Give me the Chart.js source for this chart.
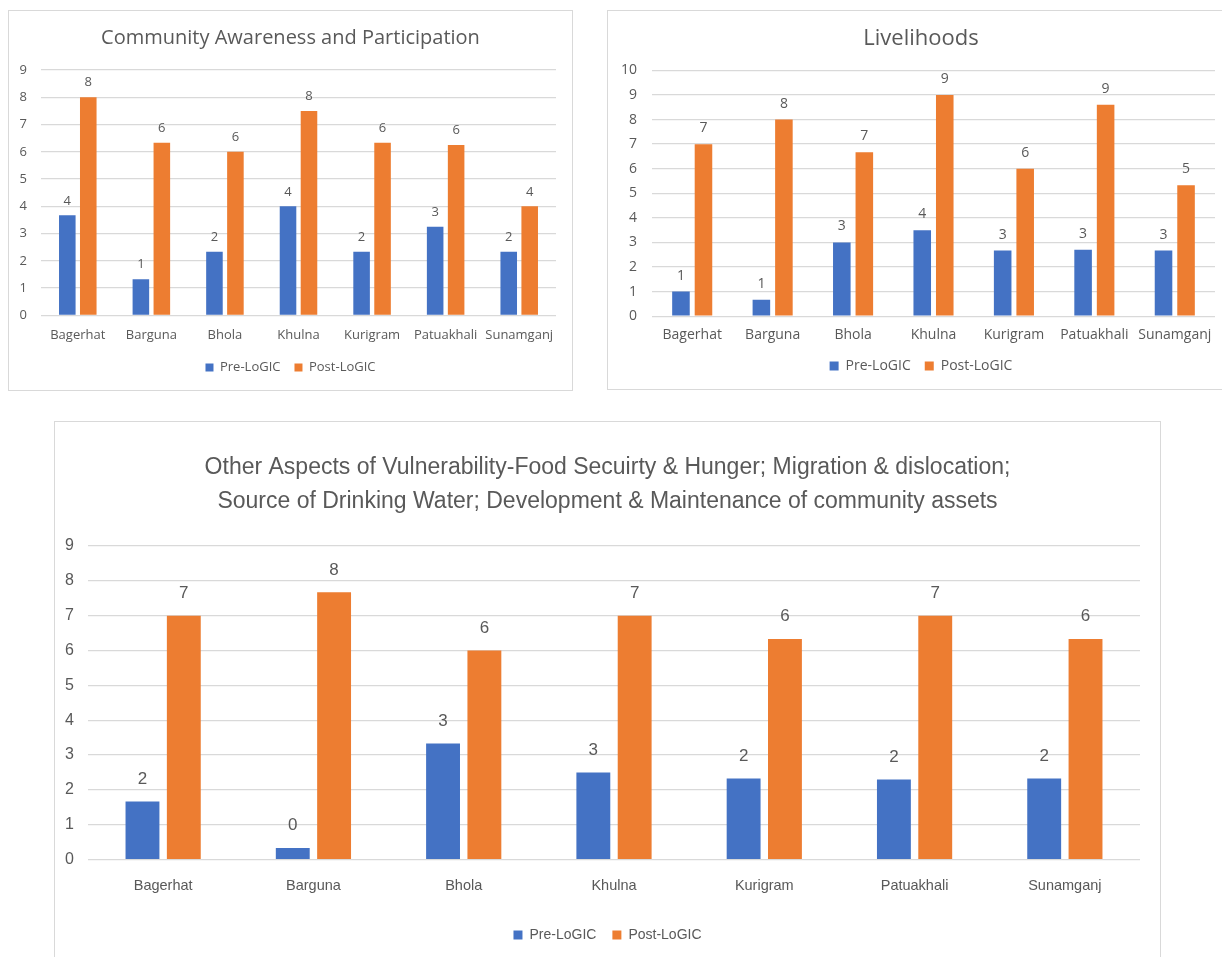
<!DOCTYPE html>
<html>
<head>
<meta charset="utf-8">
<script src="https://cdn.jsdelivr.net/npm/chart.js@4.4.1/dist/chart.umd.min.js"></script>
<style>
  body { margin: 0; background: #fff; width: 1222px; height: 957px; overflow: hidden; position: relative; }
  .box { position: absolute; border: 1px solid #d9d9d9; background: #fff; box-sizing: border-box; }
  .box canvas { display: block; }
</style>
</head>
<body>
<div class="box" style="left:8px; top:10px; width:565px; height:381px;"><canvas id="c1"></canvas></div>
<div class="box" style="left:607px; top:10px; width:628px; height:380px;"><canvas id="c2"></canvas></div>
<div class="box" style="left:54px; top:421px; width:1107px; height:545px;"><canvas id="c3"></canvas></div>
<script>
const categories = ['Bagerhat', 'Barguna', 'Bhola', 'Khulna', 'Kurigram', 'Patuakhali', 'Sunamganj'];
const seriesNames = ['Pre-LoGIC', 'Post-LoGIC'];

const awarenessPre = [3.67, 1.33, 2.33, 4, 2.33, 3.25, 2.33];
const awarenessPost = [8, 6.33, 6, 7.5, 6.33, 6.25, 4];

const livelihoodsPre = [1, 0.67, 3, 3.5, 2.67, 2.7, 2.67];
const livelihoodsPost = [7, 8, 6.67, 9, 6, 8.6, 5.33];

const otherPre = [1.67, 0.33, 3.33, 2.5, 2.33, 2.3, 2.33];
const otherPost = [7, 7.67, 6, 7, 6.33, 7, 6.33];

const BLUE = '#4472C4';
const ORANGE = '#ED7D31';
const TEXT = '#595959';
const GRID = '#d9d9d9';

// draws the rounded value above each bar, like Excel's data labels
const barLabels = {
  id: 'barLabels',
  afterDatasetsDraw(chart, args, opts) {
    const ctx = chart.ctx;
    ctx.save();
    ctx.font = opts.font;
    ctx.fillStyle = TEXT;
    ctx.textAlign = 'center';
    ctx.textBaseline = 'bottom';
    chart.data.datasets.forEach((ds, i) => {
      chart.getDatasetMeta(i).data.forEach((bar, j) => {
        ctx.fillText(String(Math.round(ds.data[j])), bar.x, bar.y - opts.offset);
      });
    });
    ctx.restore();
  }
};

function makeChart(id, w, h, title, pre, post, s) {
  const canvas = document.getElementById(id);
  canvas.width = w;
  canvas.height = h;
  return new Chart(canvas, {
    type: 'bar',
    data: {
      labels: categories,
      datasets: [
        { label: seriesNames[0], data: pre, backgroundColor: BLUE },
        { label: seriesNames[1], data: post, backgroundColor: ORANGE },
      ],
    },
    options: {
      responsive: false,
      animation: false,
      datasets: {
        bar: { categoryPercentage: s.catPct, barPercentage: s.barPct },
      },
      layout: { padding: s.padding },
      scales: {
        x: {
          afterFit(axis) { axis.height += s.xExtra; },
          grid: { display: false },
          border: { display: false },
          ticks: { color: TEXT, font: { family: s.family, size: s.xTickSize }, padding: s.xPad, maxRotation: 0, autoSkip: false },
        },
        y: {
          min: 0,
          max: s.max,
          afterFit(axis) { axis.width = s.yWidth; },
          grid: { color: GRID, lineWidth: 1.3, drawTicks: false },
          border: { display: false },
          ticks: { stepSize: 1, color: TEXT, font: { family: s.family, size: s.tickSize }, padding: s.yPad },
        },
        // empty right-hand gutter so the title stays centred on the whole box
        gutter: {
          type: 'linear',
          position: 'right',
          afterFit(axis) { axis.width = s.rightW; },
          grid: { display: false },
          border: { display: false },
          ticks: { display: false },
        },
      },
      plugins: {
        title: {
          display: true,
          text: title,
          color: TEXT,
          font: { family: s.family, size: s.titleSize, weight: 'normal', lineHeight: s.titleLH },
          padding: s.titlePad,
        },
        legend: {
          position: 'bottom',
          labels: { color: TEXT, font: { family: s.family, size: s.legendSize }, boxWidth: s.box, boxHeight: s.box, padding: s.legendPad },
        },
        tooltip: { enabled: false },
        barLabels: { font: s.labelFont, offset: s.labelOffset },
      },
    },
    plugins: [barLabels],
  });
}

makeChart('c1', 563, 379, 'Community Awareness and Participation', awarenessPre, awarenessPost, {
  family: '"Open Sans", sans-serif',
  tickSize: 13, xTickSize: 13, titleSize: 20, titleLH: 1.2, legendSize: 13, box: 8, legendPad: 14,
  catPct: 0.57, barPct: 0.79, xPad: 4, xExtra: 0, yPad: 14,
  max: 9, yWidth: 32, rightW: 16,
  padding: { left: 0, right: 0, top: 6, bottom: 6 },
  titlePad: { top: 9, bottom: 20 },
  labelFont: '13px "Open Sans", sans-serif', labelOffset: 8,
});

makeChart('c2', 626, 378, 'Livelihoods', livelihoodsPre, livelihoodsPost, {
  family: '"Open Sans", sans-serif',
  tickSize: 14, xTickSize: 14, titleSize: 22, titleLH: 1.2, legendSize: 14, box: 9, legendPad: 14,
  catPct: 0.56, barPct: 0.78, xPad: 2, xExtra: 0, yPad: 15,
  max: 10, yWidth: 44, rightW: 19,
  padding: { left: 0, right: 0, top: 6, bottom: 6 },
  titlePad: { top: 9, bottom: 18 },
  labelFont: '14px "Open Sans", sans-serif', labelOffset: 9,
});

makeChart('c3', 1105, 543,
  ['Other Aspects of Vulnerability-Food Secuirty & Hunger; Migration & dislocation;',
   'Source of Drinking Water; Development & Maintenance of community assets'],
  otherPre, otherPost, {
  family: '"Liberation Sans Narrow", sans-serif',
  tickSize: 16, xTickSize: 14.5, titleSize: 23, titleLH: 1.5, legendSize: 14, box: 9, legendPad: 16,
  catPct: 0.55, barPct: 0.82, xPad: 10, xExtra: 7, yPad: 14,
  max: 9, yWidth: 33, rightW: 20,
  padding: { left: 0, right: 0, top: 4, bottom: 13 },
  titlePad: { top: 24, bottom: 27 },
  labelFont: '17px "Liberation Sans Narrow", sans-serif', labelOffset: 14,
});
</script>
</body>
</html>
